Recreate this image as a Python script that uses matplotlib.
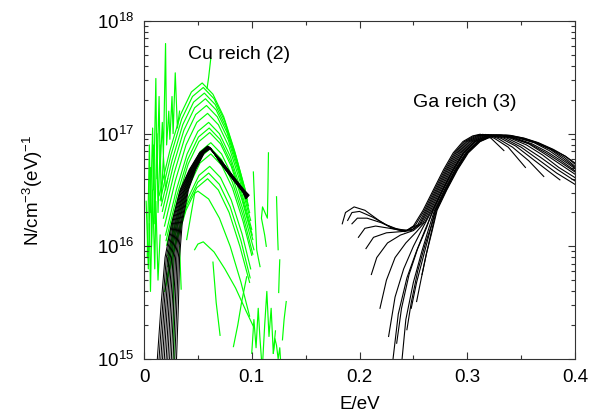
import matplotlib
matplotlib.use("Agg")
import matplotlib.pyplot as plt
from matplotlib.ticker import FixedLocator, LogLocator, NullFormatter

plt.rcParams.update({
    "font.family": ["Liberation Sans", "DejaVu Sans"],
    "font.size": 13.5,
    "mathtext.fontset": "custom",
    "mathtext.rm": "Liberation Sans",
    "mathtext.it": "Liberation Sans:italic",
    "mathtext.bf": "Liberation Sans:bold",
    "lines.linewidth": 0.85,
})

# --- data: E in eV, N given as log10(N / cm^-3 eV^-1) ---------------------------------

# Ga reich (3), black family on the right
ga_E = [
    [.184, .187, .195, .205, .218, .230, .242, .250, .2590, .2685, .2780, .2870, .2960, .3050, .3120, .322, .334],
    [.189, .193, .200, .212, .225, .236, .244, .252, .2602, .2696, .2792, .2883, .2975, .3067, .3145, .325, .338, .354],
    [.193, .198, .207, .220, .232, .244, .254, .2614, .2708, .2804, .2895, .2989, .3085, .3171, .328, .342, .357, .371],
    [.199, .205, .215, .228, .240, .249, .256, .2625, .2719, .2815, .2908, .3004, .3102, .3196, .331, .345, .360, .375, .386],
    [.206, .213, .225, .238, .248, .257, .2637, .2730, .2827, .2921, .3018, .3119, .3222, .334, .350, .366, .383, .400],
    [.211, .216, .226, .238, .250, .259, .2649, .2742, .2839, .2934, .3033, .3136, .3247, .337, .352, .368, .384, .400],
    [.219, .225, .233, .243, .253, .261, .2661, .2753, .2851, .2946, .3047, .3154, .3273, .340, .355, .370, .385, .400],
    [.227, .233, .241, .250, .259, .2673, .2765, .2863, .2959, .3062, .3171, .3298, .342, .357, .372, .386, .400],
    [.2305, .236, .244, .253, .261, .2685, .2776, .2875, .2972, .3076, .3188, .3324, .345, .360, .374, .387, .400],
    [.2345, .239, .246, .254, .262, .2680, .2770, .2869, .2966, .3069, .3180, .3311, .343, .358, .373, .386, .400],
    [.239, .243, .250, .258, .264, .2696, .2787, .2886, .2985, .3091, .3205, .3349, .348, .362, .376, .388, .400],
    [.244, .248, .254, .261, .2665, .2702, .2793, .2892, .2991, .3098, .3214, .3362, .349, .363, .377, .389, .400],
    [.248, .253, .259, .265, .2708, .2799, .2898, .2997, .3105, .3223, .3375, .350, .364, .378, .390, .400],
    [.253, .257, .262, .267, .2714, .2805, .2904, .3004, .3113, .3232, .3388, .352, .365, .379, .391, .400],
    [.258, .262, .267, .2720, .2810, .2910, .3010, .3120, .3240, .3400, .353, .366, .380, .391, .400],
]
ga_L = [
    [16.20, 16.30, 16.35, 16.32, 16.23, 16.16, 16.13, 16.18, 16.32, 16.50, 16.68, 16.83, 16.93, 16.98, 16.995, 16.96, 16.85],
    [16.23, 16.30, 16.31, 16.26, 16.19, 16.15, 16.14, 16.19, 16.32, 16.50, 16.68, 16.83, 16.93, 16.98, 16.994, 16.96, 16.88, 16.70],
    [16.20, 16.25, 16.25, 16.21, 16.16, 16.14, 16.19, 16.32, 16.50, 16.68, 16.83, 16.93, 16.98, 16.993, 16.96, 16.88, 16.76, 16.62],
    [16.08, 16.16, 16.18, 16.16, 16.14, 16.15, 16.20, 16.32, 16.50, 16.68, 16.83, 16.93, 16.98, 16.992, 16.96, 16.89, 16.78, 16.67, 16.59],
    [15.98, 16.08, 16.12, 16.13, 16.14, 16.20, 16.32, 16.50, 16.68, 16.83, 16.93, 16.98, 16.991, 16.96, 16.88, 16.77, 16.65, 16.55],
    [15.75, 15.90, 16.03, 16.10, 16.14, 16.21, 16.32, 16.50, 16.68, 16.83, 16.93, 16.98, 16.990, 16.96, 16.89, 16.79, 16.68, 16.58],
    [15.45, 15.70, 15.90, 16.03, 16.13, 16.22, 16.32, 16.50, 16.68, 16.83, 16.93, 16.98, 16.990, 16.96, 16.90, 16.81, 16.70, 16.61],
    [15.20, 15.55, 15.80, 16.00, 16.17, 16.32, 16.50, 16.68, 16.83, 16.93, 16.98, 16.989, 16.96, 16.91, 16.82, 16.73, 16.64],
    [14.95, 15.40, 15.72, 15.96, 16.15, 16.32, 16.50, 16.68, 16.83, 16.93, 16.98, 16.988, 16.96, 16.91, 16.84, 16.76, 16.67],
    [15.14, 15.45, 15.75, 15.98, 16.16, 16.32, 16.50, 16.68, 16.83, 16.93, 16.98, 16.988, 16.96, 16.91, 16.83, 16.75, 16.66],
    [14.95, 15.35, 15.68, 15.96, 16.15, 16.32, 16.50, 16.68, 16.83, 16.93, 16.98, 16.987, 16.96, 16.92, 16.85, 16.77, 16.69],
    [15.26, 15.50, 15.78, 16.02, 16.18, 16.32, 16.50, 16.68, 16.83, 16.93, 16.98, 16.986, 16.96, 16.92, 16.86, 16.78, 16.70],
    [15.45, 15.68, 15.90, 16.12, 16.32, 16.50, 16.68, 16.83, 16.93, 16.98, 16.986, 16.96, 16.92, 16.86, 16.79, 16.71],
    [15.51, 15.70, 15.93, 16.14, 16.32, 16.50, 16.68, 16.83, 16.93, 16.98, 16.985, 16.96, 16.92, 16.86, 16.80, 16.73],
    [15.75, 15.93, 16.12, 16.32, 16.50, 16.68, 16.83, 16.93, 16.98, 16.985, 16.96, 16.92, 16.86, 16.80, 16.74],
]

# black family under "Cu reich" (peak near 0.06 eV)
cu_black_E = [
    [.0120, .0160, .0195, .0255, .0335, .0420, .0515, .0590, .071, .083, .092, .0975],
    [.0136, .0175, .0207, .0264, .0342, .0425, .0519, .0593, .071, .083, .092, .0972],
    [.0153, .0189, .0220, .0273, .0349, .0431, .0523, .0595, .071, .083, .092, .0970],
    [.0169, .0204, .0232, .0282, .0356, .0436, .0527, .0598, .071, .083, .092, .0967],
    [.0185, .0218, .0244, .0291, .0363, .0441, .0531, .0601, .071, .083, .092, .0964],
    [.0202, .0233, .0256, .0300, .0370, .0447, .0535, .0604, .071, .083, .092, .0961],
    [.0218, .0247, .0269, .0309, .0377, .0452, .0539, .0606, .071, .083, .092, .0959],
    [.0235, .0262, .0281, .0318, .0384, .0457, .0543, .0609, .071, .083, .092, .0956],
    [.0251, .0276, .0293, .0327, .0391, .0463, .0547, .0612, .071, .083, .092, .0953],
    [.0267, .0291, .0305, .0336, .0398, .0468, .0551, .0615, .071, .083, .092, .0950],
    [.0284, .0305, .0318, .0345, .0405, .0474, .0555, .0617, .071, .083, .092, .0948],
    [.0300, .0320, .0330, .0354, .0412, .0479, .0560, .0620, .071, .083, .092, .0945],
]
cu_black_L = [
    [14.95, 15.5, 15.9, 16.2, 16.5, 16.68, 16.83, 16.890, 16.770, 16.620, 16.510, 16.455],
    [14.95, 15.5, 15.9, 16.2, 16.5, 16.68, 16.83, 16.888, 16.767, 16.617, 16.507, 16.452],
    [14.95, 15.5, 15.9, 16.2, 16.5, 16.68, 16.83, 16.886, 16.764, 16.614, 16.504, 16.449],
    [14.95, 15.5, 15.9, 16.2, 16.5, 16.68, 16.83, 16.885, 16.761, 16.611, 16.501, 16.446],
    [14.95, 15.5, 15.9, 16.2, 16.5, 16.68, 16.83, 16.883, 16.758, 16.608, 16.498, 16.443],
    [14.95, 15.5, 15.9, 16.2, 16.5, 16.68, 16.83, 16.881, 16.755, 16.605, 16.495, 16.440],
    [14.95, 15.5, 15.9, 16.2, 16.5, 16.68, 16.83, 16.879, 16.752, 16.602, 16.492, 16.437],
    [14.95, 15.5, 15.9, 16.2, 16.5, 16.68, 16.83, 16.877, 16.749, 16.599, 16.489, 16.434],
    [14.95, 15.5, 15.9, 16.2, 16.5, 16.68, 16.83, 16.875, 16.746, 16.596, 16.486, 16.431],
    [14.95, 15.5, 15.9, 16.2, 16.5, 16.68, 16.83, 16.874, 16.743, 16.593, 16.483, 16.428],
    [14.95, 15.5, 15.9, 16.2, 16.5, 16.68, 16.83, 16.872, 16.740, 16.590, 16.480, 16.425],
    [14.95, 15.5, 15.9, 16.2, 16.5, 16.68, 16.83, 16.870, 16.737, 16.587, 16.477, 16.422],
]

# Cu reich (2), green nested arcs
green_E = [
    [.014, .024, .034, .044, .054, .064, .074, .084, .094],
    [.015, .025, .035, .045, .055, .065, .075, .085, .095],
    [.016, .026, .036, .046, .056, .066, .076, .086, .096],
    [.017, .027, .037, .047, .057, .067, .077, .087, .097],
    [.018, .028, .038, .048, .058, .068, .078, .088, .098],
    [.019, .029, .039, .049, .059, .069, .079, .089, .099],
    [.020, .030, .040, .050, .060, .070, .080, .090, .100],
    [.0205, .0305, .0405, .0505, .0605, .0705, .0805, .0905, .1005],
    [.021, .031, .041, .051, .061, .071, .081, .091, .101],
    [.022, .032, .042, .052, .062, .072, .082, .092, .102],
    [.022, .032, .042, .052, .062, .072, .082, .092, .101],
    [.022, .032, .042, .052, .062, .072, .082, .092, .100],
    [.021, .031, .041, .051, .061, .071, .081, .091, .099],
    [.020, .030, .040, .050, .060, .070, .080, .090, .0985],
    [.019, .029, .039, .049, .059, .069, .079, .089, .098],
    [.0396, .047, .050, .060, .070, .080, .090, .098],
    [.047, .050, .055, .065, .075, .085, .095, .1015],
]
green_L = [
    [16.45, 16.85, 17.17, 17.37, 17.45, 17.35, 17.15, 16.85, 16.50],
    [16.41, 16.81, 17.13, 17.33, 17.41, 17.31, 17.11, 16.81, 16.46],
    [16.36, 16.76, 17.08, 17.28, 17.36, 17.26, 17.06, 16.76, 16.41],
    [16.31, 16.71, 17.03, 17.23, 17.31, 17.21, 17.01, 16.71, 16.36],
    [16.25, 16.65, 16.97, 17.17, 17.25, 17.15, 16.95, 16.65, 16.30],
    [16.18, 16.58, 16.90, 17.10, 17.18, 17.08, 16.88, 16.58, 16.23],
    [16.10, 16.50, 16.82, 17.02, 17.10, 17.00, 16.80, 16.50, 16.15],
    [16.05, 16.45, 16.77, 16.97, 17.05, 16.95, 16.75, 16.45, 16.10],
    [16.01, 16.41, 16.73, 16.93, 17.01, 16.91, 16.71, 16.41, 16.06],
    [15.92, 16.32, 16.64, 16.84, 16.92, 16.82, 16.62, 16.32, 15.97],
    [15.87, 16.27, 16.59, 16.79, 16.87, 16.77, 16.57, 16.27, 15.93],
    [15.82, 16.22, 16.54, 16.74, 16.82, 16.72, 16.52, 16.22, 15.92],
    [15.71, 16.11, 16.43, 16.63, 16.71, 16.61, 16.41, 16.11, 15.80],
    [15.65, 16.05, 16.37, 16.57, 16.65, 16.55, 16.35, 16.05, 15.72],
    [15.60, 16.00, 16.32, 16.52, 16.60, 16.50, 16.30, 16.00, 15.68],
    [16.06, 16.47, 16.49, 16.42, 16.25, 16.00, 15.68, 15.38],
    [15.97, 16.02, 16.04, 15.95, 15.80, 15.63, 15.42, 15.29],
]

# green noisy pieces (low-energy spikes and high-energy tails)
noise_E = [
    [.003, .005, .006, .008, .009, .011, .012, .014, .015, .017, .018, .020, .021, .023, .024, .026, .027, .029, .031, .033],
    [.002, .004, .006, .007, .009, .010, .012, .013, .015, .016, .018, .020, .022],
    [.005, .006, .008, .010, .011, .013, .015],
    [.0265, .0275, .0280],
    [.0330, .0345],
    [.0585, .0600, .0620],
    [.0640, .0670, .0706],
    [.1015, .1030, .1046, .1060, .1077],
    [.1155, .1150, .1145, .1100, .1090, .1120, .1135],
    [.1230, .1240, .1245],
    [.0953, .0905, .0870, .0830],
    [.1000, .1020, .1040, .1060, .1075, .1090],
    [.1100, .1120, .1140, .1160, .1180, .1200, .1220],
    [.1260, .1255, .1250],
    [.1320, .1300, .1285],
    [.1200, .1215, .1230, .1245, .1260, .1270],
]
noise_L = [
    [15.9, 16.9, 16.3, 17.05, 16.5, 17.49, 16.6, 17.33, 16.7, 17.1, 16.8, 17.80, 16.9, 17.2, 16.95, 17.33, 17.0, 17.54, 17.05, 17.2],
    [16.4, 15.8, 16.7, 16.0, 16.9, 16.2, 17.0, 16.3, 16.9, 16.4, 16.8, 16.5, 16.6],
    [16.2, 15.6, 16.5, 15.8, 16.4, 15.7, 16.1],
    [16.2, 15.5, 14.9],
    [16.0, 15.62],
    [17.40, 17.50, 17.67],
    [15.86, 15.50, 15.21],
    [16.66, 16.30, 15.97, 15.90, 15.82],
    [16.83, 16.50, 16.25, 16.35, 16.25, 16.10, 16.00],
    [16.44, 16.10, 15.97],
    [15.73, 15.50, 15.30, 15.11],
    [15.05, 15.35, 15.10, 15.45, 15.20, 15.00],
    [14.95, 15.30, 15.60, 15.20, 15.45, 15.05, 15.25],
    [15.88, 15.75, 15.59],
    [15.51, 15.35, 15.17],
    [15.05, 15.18, 15.12, 15.00, 15.10, 14.95],
]

x_ticks = [0, 0.1, 0.2, 0.3, 0.4]
x_ticklabels = ["0", "0.1", "0.2", "0.3", "0.4"]
y_ticks = [1e15, 1e16, 1e17, 1e18]

# --- plot -----------------------------------------------------------------------------
fig = plt.figure(figsize=(5.89, 4.19), dpi=100)
ax = fig.add_axes([144 / 589, 60 / 419, 431 / 589, 338 / 419])
green = "#00ff00"

for E, L in zip(green_E, green_L):
    ax.plot(E, [10 ** v for v in L], color=green, zorder=1)
for E, L in zip(noise_E, noise_L):
    ax.plot(E, [10 ** v for v in L], color=green, zorder=1)
for E, L in zip(cu_black_E, cu_black_L):
    ax.plot(E, [10 ** v for v in L], color="black", lw=0.75, zorder=2)
for E, L in zip(ga_E, ga_L):
    ax.plot(E, [10 ** v for v in L], color="black", lw=0.8, zorder=2)

ax.set_yscale("log")
ax.set_xlim(0, 0.4)
ax.set_ylim(1e15, 1e18)
ax.xaxis.set_major_locator(FixedLocator(x_ticks))
ax.set_xticklabels(x_ticklabels)
ax.xaxis.set_minor_locator(FixedLocator([0.05, 0.15, 0.25, 0.35]))
ax.yaxis.set_major_locator(FixedLocator(y_ticks))
ax.yaxis.set_minor_locator(LogLocator(base=10, subs=range(2, 10)))
ax.yaxis.set_minor_formatter(NullFormatter())
ax.tick_params(which="both", direction="in", top=True, right=True, width=0.8, color="#333333")
ax.tick_params(which="major", length=5, pad=7)
ax.tick_params(which="minor", length=3)
for s in ax.spines.values():
    s.set_linewidth(0.8)
    s.set_color("#333333")

ax.text(0.041, 10 ** 17.70, "Cu reich (2)", ha="left", va="center", fontsize=14)
ax.text(0.2497, 10 ** 17.28, "Ga reich (3)", ha="left", va="center", fontsize=14)

ax.set_xlabel("E/eV")
ax.set_ylabel(r"N/cm$^{-3}$(eV)$^{-1}$")
ax.xaxis.set_label_coords(0.5, -0.11)
ax.yaxis.set_label_coords(-0.23, 0.5)

fig.savefig("out.png", dpi=100)
